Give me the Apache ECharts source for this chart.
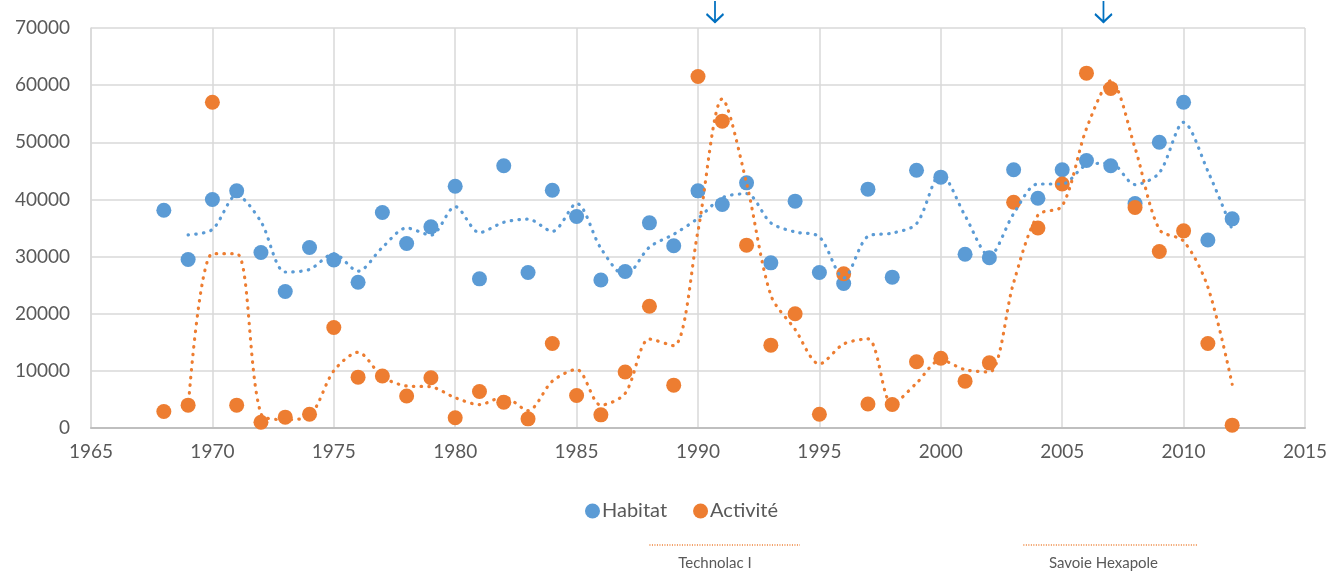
<!DOCTYPE html>
<html>
<head>
<meta charset="utf-8">
<title>Habitat / Activité</title>
<script src="https://cdn.jsdelivr.net/npm/echarts@6/dist/echarts.min.js"></script>
<style>
  html, body { margin: 0; padding: 0; background: #fff; }
  #chart { width: 1332px; height: 572px; }
</style>
</head>
<body>
<div id="chart"></div>
<script>
// Yearly surfaces (m²) for housing and business premises
const years = [1968, 1969, 1970, 1971, 1972, 1973, 1974, 1975, 1976, 1977, 1978, 1979, 1980,
  1981, 1982, 1983, 1984, 1985, 1986, 1987, 1988, 1989, 1990, 1991, 1992, 1993, 1994, 1995,
  1996, 1997, 1998, 1999, 2000, 2001, 2002, 2003, 2004, 2005, 2006, 2007, 2008, 2009, 2010,
  2011, 2012];

const habitat = [38100, 29500, 40000, 41500, 30700, 23900, 31600, 29400, 25500, 37700, 32300,
  35200, 42300, 26100, 45900, 27200, 41600, 37000, 25900, 27400, 35900, 31900, 41500, 39100,
  42900, 28900, 39700, 27200, 25300, 41800, 26400, 45100, 43900, 30400, 29800, 45200, 40200,
  45200, 46800, 45900, 39300, 50000, 57000, 32900, 36600];

const activite = [2900, 4000, 57000, 4000, 1000, 1900, 2400, 17600, 8900, 9100, 5600, 8800,
  1800, 6400, 4500, 1600, 14800, 5700, 2300, 9800, 21300, 7500, 61500, 53700, 32000, 14500,
  20000, 2400, 27000, 4200, 4100, 11600, 12200, 8200, 11400, 39500, 35000, 42700, 62100,
  59400, 38600, 30900, 34500, 14800, 500];

// Project milestones: arrow years and the span of each caption's rule
const milestoneYears = [1990.7, 2006.7];
const milestoneLabels = ['Technolac I', 'Savoie Hexapole'];
const milestoneSpans = [[1988.0, 1994.2], [2003.4, 2010.55]];

const xTicks = { min: 1965, max: 2015, step: 5 };
const yTicks = { min: 0, max: 70000, step: 10000 };

const BLUE = '#5B9BD5';
const ORANGE = '#ED7D31';
const TEXT = '#595959';
const FONT = 'Lato, "Open Sans", sans-serif';

// 2-period moving average trendline
function movingAverage(xs, ys) {
  const out = [];
  for (let i = 1; i < ys.length; i++) out.push([xs[i], (ys[i] + ys[i - 1]) / 2]);
  return out;
}

const pairs = (xs, ys) => xs.map((x, i) => [x, ys[i]]);

const chart = echarts.init(document.getElementById('chart'), null, { renderer: 'canvas' });

const trendStyle = color => ({
  color: color,
  width: 3.2,
  type: [0.5, 7.2],
  cap: 'round',
  opacity: 1
});

const option = {
  animation: false,
  backgroundColor: '#fff',
  textStyle: { fontFamily: FONT },
  grid: { left: 91, right: 27, top: 28, bottom: 144, containLabel: false },
  legend: {
    data: ['Habitat', 'Activité'],
    left: 580,
    top: 496,
    itemWidth: 15,
    itemHeight: 15,
    itemGap: 26,
    icon: 'circle',
    textStyle: { color: TEXT, fontSize: 20, fontFamily: FONT, padding: [0, 0, 0, -3] }
  },
  xAxis: {
    type: 'value',
    min: xTicks.min,
    max: xTicks.max,
    interval: xTicks.step,
    axisLine: { show: true, lineStyle: { color: '#bfbfbf', width: 2 } },
    axisTick: { show: false },
    splitLine: { show: true, lineStyle: { color: '#d9d9d9', width: 1.5 } },
    axisLabel: { color: TEXT, fontSize: 19, margin: 14, fontFamily: FONT, formatter: v => String(v) }
  },
  yAxis: {
    type: 'value',
    min: yTicks.min,
    max: yTicks.max,
    interval: yTicks.step,
    axisLine: { show: true, lineStyle: { color: '#d9d9d9', width: 1.5 } },
    axisTick: { show: false },
    splitLine: { show: true, lineStyle: { color: '#d9d9d9', width: 1.5 } },
    axisLabel: { color: TEXT, fontSize: 19, margin: 21, fontFamily: FONT, formatter: v => String(v) }
  },
  series: [
    {
      name: 'Habitat',
      type: 'scatter',
      data: pairs(years, habitat),
      symbol: 'circle',
      symbolSize: 15,
      itemStyle: { color: BLUE, opacity: 1 },
      z: 2
    },
    {
      name: 'Activité',
      type: 'scatter',
      data: pairs(years, activite),
      symbol: 'circle',
      symbolSize: 15,
      itemStyle: { color: ORANGE, opacity: 1 },
      z: 3
    },
    {
      name: 'Habitat tendance',
      type: 'line',
      data: movingAverage(years, habitat),
      smooth: 0.3,
      showSymbol: false,
      lineStyle: trendStyle(BLUE),
      z: 4
    },
    {
      name: 'Activité tendance',
      type: 'line',
      data: movingAverage(years, activite),
      smooth: 0.3,
      showSymbol: false,
      lineStyle: trendStyle(ORANGE),
      z: 5,
      markPoint: {
        silent: true,
        symbol: 'path://M8,0 L8,22 M0,13 L8,21 L16,13',
        symbolSize: [17, 22],
        symbolOffset: [0, -16],
        itemStyle: { color: 'none', borderColor: '#0070C0', borderWidth: 2 },
        label: { show: false },
        data: milestoneYears.map(y => ({ coord: [y, yTicks.max] }))
      }
    }
  ]
};

chart.setOption(option);

// Milestone captions under the legend, placed from the x scale
function drawCaptions() {
  const elements = [];
  milestoneYears.forEach((yr, i) => {
    const cx = chart.convertToPixel({ xAxisIndex: 0 }, yr);
    const x0 = chart.convertToPixel({ xAxisIndex: 0 }, milestoneSpans[i][0]);
    const x1 = chart.convertToPixel({ xAxisIndex: 0 }, milestoneSpans[i][1]);
    elements.push({
      type: 'line',
      shape: { x1: x0, y1: 545, x2: x1, y2: 545 },
      style: { stroke: ORANGE, lineWidth: 1.3, lineDash: [1, 1.5] }
    });
    elements.push({
      type: 'text',
      x: cx,
      y: 563,
      style: {
        text: milestoneLabels[i],
        fill: TEXT,
        font: '15px ' + FONT,
        align: 'center',
        verticalAlign: 'middle'
      }
    });
  });
  chart.setOption({ graphic: elements });
}
drawCaptions();
</script>
</body>
</html>
